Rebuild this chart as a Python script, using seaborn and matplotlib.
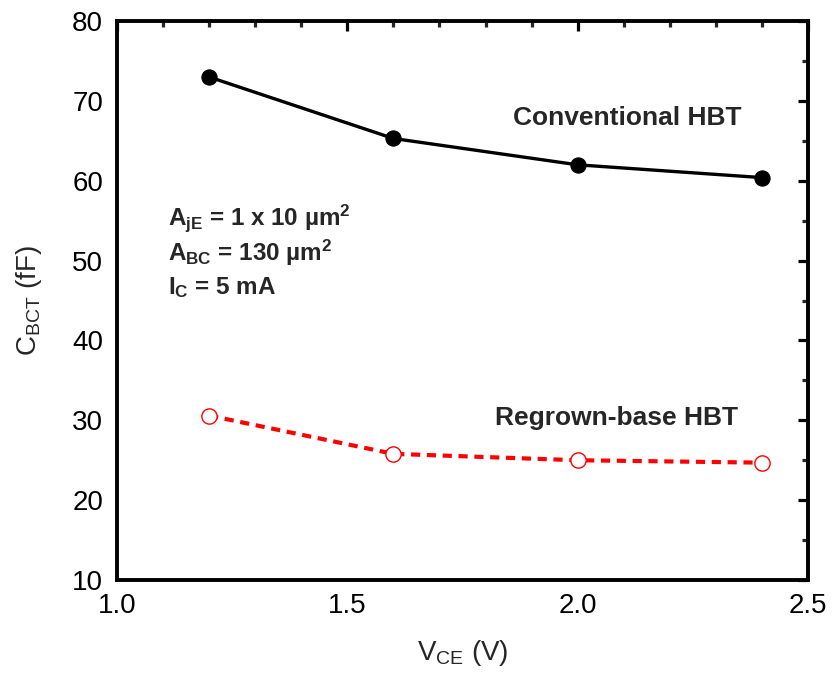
import matplotlib
matplotlib.use("Agg")
import matplotlib.pyplot as plt
import seaborn as sns
import pandas as pd
from matplotlib.ticker import MultipleLocator

vce = [1.2, 1.6, 2.0, 2.4]
conventional = [73.0, 65.3, 62.0, 60.4]
regrown = [30.6, 25.8, 25.0, 24.7]

sns.set_theme(style="white")
plt.rcParams['font.family'] = ['Liberation Sans', 'DejaVu Sans']
plt.rcParams['mathtext.fontset'] = 'custom'
plt.rcParams['mathtext.rm'] = 'Liberation Sans'
plt.rcParams['mathtext.it'] = 'Liberation Sans'
plt.rcParams['mathtext.bf'] = 'Liberation Sans:bold'

df = pd.DataFrame({
    'VCE': vce * 2,
    'C': conventional + regrown,
    'device': ['Conventional HBT'] * 4 + ['Regrown-base HBT'] * 4,
})

fig = plt.figure(figsize=(8.33, 6.81), dpi=100)
ax = fig.add_axes([0.1405, 0.1483, 0.8295, 0.8207])

sns.lineplot(data=df[df.device == 'Conventional HBT'], x='VCE', y='C', ax=ax,
             color='black', lw=2.4, marker='o', markersize=11,
             markerfacecolor='black', markeredgecolor='black', legend=False)
sns.lineplot(data=df[df.device == 'Regrown-base HBT'], x='VCE', y='C', ax=ax,
             color='red', lw=3, linestyle=(0, (2.2, 1.6)), marker='o', markersize=11,
             markerfacecolor='white', markeredgecolor='red', markeredgewidth=1.0,
             legend=False)

ax.set_xlim(1.0, 2.5)
ax.set_ylim(10, 80)
ax.xaxis.set_major_locator(MultipleLocator(0.5))
ax.xaxis.set_minor_locator(MultipleLocator(0.1))
ax.yaxis.set_major_locator(MultipleLocator(10))
ax.yaxis.set_minor_locator(MultipleLocator(5))
ax.set_xticks([1.0, 1.5, 2.0, 2.5])
ax.set_xticklabels(['1.0', '1.5', '2.0', '2.5'])

for s in ax.spines.values():
    s.set_linewidth(2.8)
    s.set_color('black')
ax.tick_params(which='major', direction='in', length=7, width=2.3,
               top=True, right=True, labelsize=20, colors='black')
ax.tick_params(which='minor', direction='in', length=4, width=2.3,
               top=True, right=True)
ax.tick_params(axis='y', which='major', pad=10)
ax.tick_params(axis='x', which='major', pad=9)

ax.set_xlabel(r'V$_{\mathrm{CE}}$ (V)', fontsize=20, labelpad=14)
ax.set_ylabel(r'C$_{\mathrm{BCT}}$ (fF)', fontsize=20, labelpad=20)

ax.text(2.107, 67.0, 'Conventional HBT', fontsize=19, fontweight='bold',
        ha='center', va='baseline')
ax.text(2.084, 29.4, 'Regrown-base HBT', fontsize=19, fontweight='bold',
        ha='center', va='baseline')

ax.text(1.11, 54.45, r'A$_{\mathbf{jE}}$ = 1 x 10 µm$^{\mathbf{2}}$', fontsize=17.5,
        fontweight='bold', ha='left', va='baseline')
ax.text(1.11, 49.95, r'A$_{\mathbf{BC}}$ = 130 µm$^{\mathbf{2}}$', fontsize=17.5,
        fontweight='bold', ha='left', va='baseline')
ax.text(1.11, 45.8, r'I$_{\mathbf{C}}$ = 5 mA', fontsize=17.5,
        fontweight='bold', ha='left', va='baseline')

fig.savefig('out.png', dpi=100, facecolor='white')
